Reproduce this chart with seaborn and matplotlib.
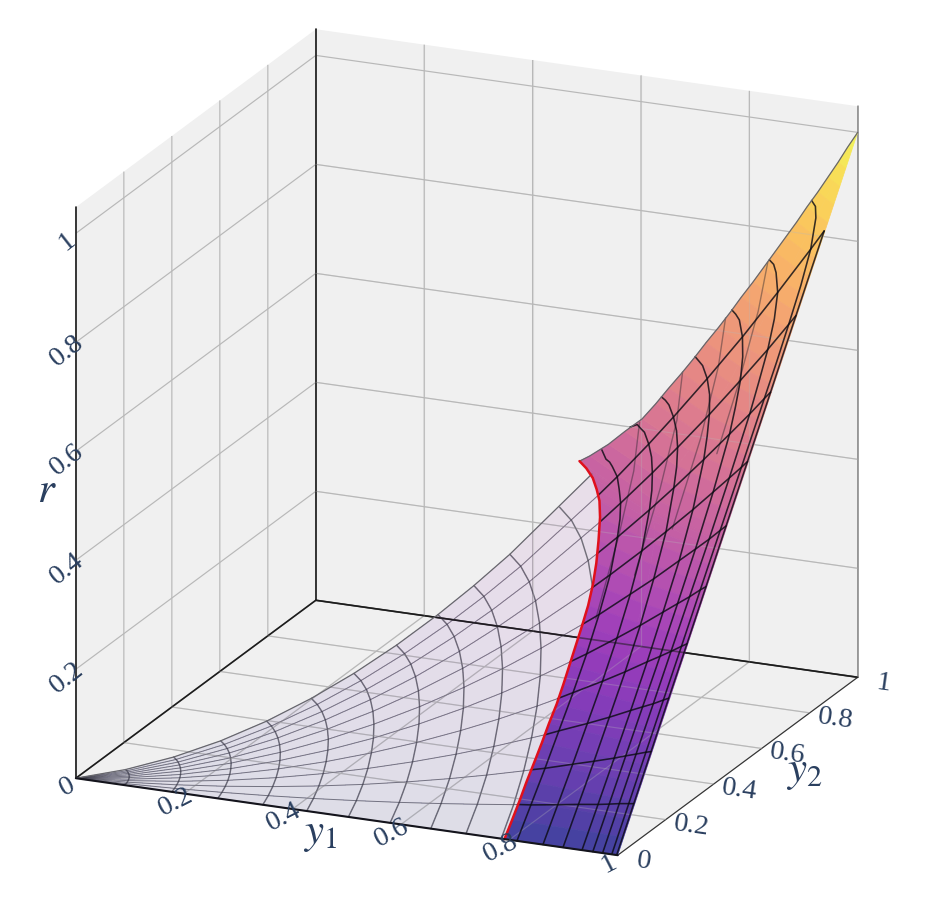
import numpy as np
import seaborn as sns
import matplotlib
matplotlib.use('Agg')
import matplotlib.pyplot as plt
from mpl_toolkits.mplot3d import proj3d

tick_values = [0, 0.2, 0.4, 0.6, 0.8, 1]
tick_labels = ['0', '0.2', '0.4', '0.6', '0.8', '1']
r_top = 1.048

# rays of the mesh, degrees from the y1 axis
ray_theta = [0, 4.09, 8.18, 12.27, 16.36, 20.45, 24.55, 28.64, 32.73, 36.82, 40.91, 45]

# pale sheet: arcs around the origin, one row per arc, one column per ray
arc_rho = [0.09, 0.177, 0.262, 0.345, 0.426, 0.503, 0.58, 0.655, 0.72, 0.785, 0.875]
nan = np.nan
arc_r = [
    [0, .0006, .0011, .0017, .0022, .0027, .0031, .0034, .0037, .0039, .0040, .0041],
    [0, .0022, .0044, .0065, .0085, .0102, .0118, .0132, .0142, .0150, .0155, .0157],
    [0, .0049, .0097, .0142, .0185, .0225, .0259, .0289, .0312, .0329, .0340, .0343],
    [0, .0085, .0168, .0247, .0322, .0389, .0450, .0501, .0541, .0571, .0589, .0595],
    [0, .0129, .0256, .0377, .0491, .0594, .0686, .0763, .0825, .0871, .0898, .0908],
    [0, .0180, .0356, .0525, .0684, .0828, .0956, .1064, .1151, .1214, .1252, .1265],
    [0, .0239, .0474, .0699, .0909, .1101, .1271, .1415, .1530, .1614, .1665, .1682],
    [0, .0305, .0604, .0891, .1160, .1404, .1621, .1804, .1951, .2058, .2123, .2145],
    [0, .0369, .0730, .1077, .1401, .1697, .1959, .2180, .2358, .2487, .2566, .2592],
    [0, .0438, .0868, .1280, .1666, .2017, .2329, .2592, .2802, .2956, .3050, .3081],
    [nan, nan, nan, nan, nan, nan, nan, .3220, .3482, .3673, .3789, .3828],
]

# solid sheet mesh: first row is the red edge, the others the dark arcs
mesh_y1 = [
    [.791, .790, .790, .789, .787, .783, .777, .767, .749, .726, .697, .660],
    [.814, .814, .814, .813, .812, .809, .803, .794, .778, .755, .722, .678],
    [.862, .862, .862, .861, .860, .857, .851, .841, .824, .799, .764, .718],
    [.899, .899, .899, .898, .897, .894, .887, .877, .859, .834, .797, .749],
    [.934, .934, .934, .934, .933, .930, .926, .917, .902, .878, .842, .792],
    [.954, .954, .954, .954, .954, .953, .951, .947, .939, .921, .889, .839],
    [.972, .972, .972, .972, .972, .972, .972, .971, .968, .959, .936, .887],
    [.989, .989, .989, .989, .989, .989, .989, .989, .989, .988, .980, .941],
    [.998, .998, .998, .998, .998, .998, .998, .998, .998, .998, .998, nan],
]
mesh_r = [
    [0, .045, .090, .135, .182, .229, .276, .321, .361, .395, .421, .436],
    [0, .047, .095, .144, .194, .244, .294, .344, .389, .427, .451, .460],
    [0, .053, .107, .161, .217, .274, .331, .386, .436, .478, .505, .516],
    [0, .058, .116, .175, .236, .298, .359, .420, .474, .521, .550, .561],
    [0, .062, .125, .190, .256, .323, .392, .459, .523, .577, .614, .627],
    [0, .065, .131, .198, .267, .339, .413, .490, .567, .635, .684, .704],
    [0, .068, .136, .205, .277, .352, .431, .515, .602, .688, .759, .787],
    [0, .070, .141, .213, .287, .365, .447, .534, .629, .731, .832, .886],
    [0, .071, .143, .217, .292, .371, .455, .544, .640, .746, .863, nan],
]
# extra points where the dark arcs bend near the rim
bend_theta = [34.77, 38.86, 42.95, 44.0]
bend_y1 = [
    [nan, nan, nan, nan],
    [.768, .739, .701, .690],
    [.813, .783, .743, .730],
    [.848, .817, .775, .762],
    [.891, .862, .819, .805],
    [.931, .907, .867, .853],
    [.964, .950, .915, .902],
    [.989, .986, .967, .956],
    [.998, .998, nan, nan],
]
bend_r = [
    [nan, nan, nan, nan],
    [.410, .440, .458, .460],
    [.459, .494, .514, .515],
    [.499, .538, .559, .561],
    [.551, .599, .624, .626],
    [.602, .663, .700, .703],
    [.645, .727, .779, .786],
    [.679, .784, .871, .883],
    [.692, .803, nan, nan],
]
# where the first arcs stop on the upper rim
rim_y1 = [.615, .658, .703]
rim_y2 = [.710, .706, .722]
rim_r = [.437, .465, .508]

# faint arcs seen through the solid sheet
under_y1 = [[.885, .905, .920, .926], [.831, .858, .878, .888], [.776, .808, .830, .845], [.721, .755, .780, .800]]
under_y2 = [[.885, .800, .680, .580], [.831, .740, .620, .480], [.776, .680, .560, .420], [.721, .620, .500, .360]]
under_r = [[.783, .724, .626, .537], [.691, .635, .544, .426], [.602, .549, .465, .355], [.520, .468, .390, .288]]

# solid sheet fill, strips of equal r from the left rim to y1 = 1
fill_r = [0, .025, .05, .075, .1, .125, .15, .175, .2, .225, .25, .275, .3, .325, .35, .375, .4, .416, .425,
          .433, .4365, .437, .45, .475, .5, .525, .55, .575, .6, .625, .65, .675, .7, .725, .75, .775, .8, .825,
          .85, .875, .9, .925, .95, .975, 1]
fill_left_y1 = [.791, .791, .791, .790, .790, .790, .789, .789, .787, .784, .781, .778, .774, .766, .755,
                .740, .722, .705, .687, .666, .640, .615, .635, .668, .695, .724, .742, .758, .775, .791, .806,
                .822, .837, .851, .866, .880, .894, .908, .922, .935, .949, .962, .975, .987, 1]
fill_left_y2 = [0, .032, .063, .095, .127, .158, .190, .222, .254, .287, .320, .353, .387, .425, .464,
                .507, .554, .590, .619, .650, .682, .710, .708, .711, .719, .725, .741, .758, .775, .791, .806,
                .822, .837, .851, .866, .880, .894, .908, .922, .935, .949, .962, .975, .987, 1]
fill_mid_y1 = [.896, .896, .895, .895, .895, .895, .895, .894, .893, .892, .890, .889, .887, .883, .878,
               .870, .861, .852, .843, .833, .820, .808, .818, .834, .848, .862, .871, .879, .888, .896, .903,
               .911, .919, .926, .933, .940, .947, .954, .961, .968, .975, .981, .988, .994, 1]
fill_mid_y2 = [0, .028, .056, .084, .112, .140, .168, .196, .224, .252, .281, .309, .338, .368, .399,
               .431, .465, .488, .504, .520, .532, .541, .550, .570, .590, .609, .631, .654, .676, .698, .720,
               .741, .762, .783, .804, .824, .845, .865, .884, .904, .923, .943, .962, .981, 1]
n_red = 22  # strips that end on the red edge

sns.set_style('white')
plt.rcParams['font.family'] = ['Liberation Serif', 'DejaVu Serif']
plt.rcParams['mathtext.fontset'] = 'stix'
ink = '#2a3f5f'
grid_grey = '#b8b8b8'
pane_grey = 0.94
plasma = sns.color_palette('plasma', as_cmap=True)

fig = plt.figure(figsize=(9.36, 9.09), dpi=100, facecolor='white')
ax = fig.add_axes([0, 0, 909 / 936, 1], projection='3d', computed_zorder=False)
ax.set_proj_type('ortho')
ax.view_init(elev=18.94, azim=-66.36)
ax.set_box_aspect((591.6, 598.5, 603.8), zoom=1.106)
ax.set_xlim(0, 1, view_margin=0)
ax.set_ylim(0, 1, view_margin=0)
ax.set_zlim(0, r_top, view_margin=0)
ax.set_xticks(tick_values)
ax.set_yticks(tick_values)
ax.set_zticks(tick_values)
ax.set_xticklabels([])
ax.set_yticklabels([])
ax.set_zticklabels([])
ax.set_facecolor('white')
for axis in (ax.xaxis, ax.yaxis, ax.zaxis):
    axis.set_pane_color((pane_grey, pane_grey, pane_grey, 1))
    axis.pane.set_edgecolor('none')
    axis.line.set_color((0, 0, 0, 0))
    axis._axinfo['grid'].update(color=grid_grey, linewidth=0.85)
    axis._axinfo['tick'].update(inward_factor=0, outward_factor=0)

theta = np.radians(ray_theta)
slope = np.tan(theta)
rho = np.array(arc_rho)
arc_r = np.array(arc_r)
mesh_y1 = np.array(mesh_y1)
mesh_r = np.array(mesh_r)
mesh_y2 = mesh_y1 * slope
bend_y1 = np.array(bend_y1)
bend_r = np.array(bend_r)
bend_y2 = bend_y1 * np.tan(np.radians(bend_theta))

# pale sheet
n_fill = len(arc_rho) - 1
pale_x = np.vstack([np.zeros(12), np.outer(rho[:n_fill], np.cos(theta)), mesh_y1[0]])
pale_y = np.vstack([np.zeros(12), np.outer(rho[:n_fill], np.sin(theta)), mesh_y2[0]])
pale_z = np.vstack([np.zeros(12), arc_r[:n_fill], mesh_r[0]])
pale_c = plasma(pale_z)
pale_c[..., 3] = 0.08
ax.plot_surface(pale_x, pale_y, pale_z, facecolors=pale_c, shade=False, rstride=1, cstride=1,
                linewidth=0, antialiased=False, zorder=2)

# box edges under the sheets
edge = {'color': '#1c1c1c', 'linewidth': 1.2, 'zorder': 1}
ax.plot([0, 0], [0, 1], [0, 0], **edge)
ax.plot([0, 1], [1, 1], [0, 0], **edge)
ax.plot([0, 0], [1, 1], [0, r_top], **edge)
ax.plot([0, 0], [0, 0], [0, r_top], **edge)
ax.plot([1, 1], [1, 1], [0, r_top], color='#8c8c8c', linewidth=1.1, zorder=1)
ax.plot([1, 1], [0, 1], [0, 0], color='#333333', linewidth=0.8, zorder=1)

pale_arc = {'color': '#3c3c46', 'alpha': 0.68, 'linewidth': 1.05, 'zorder': 3}
pale_ray = {'color': '#3c3c46', 'alpha': 0.62, 'linewidth': 0.7, 'zorder': 3}
for i in range(len(arc_rho)):
    ax.plot(rho[i] * np.cos(theta), rho[i] * np.sin(theta), arc_r[i], **pale_arc)
for j in range(1, len(ray_theta) - 1):
    ax.plot(pale_x[:, j], pale_y[:, j], pale_z[:, j], **pale_ray)

# solid sheet, colours already mixed with the grey behind so the strips leave no seams
solid_x = np.column_stack([fill_left_y1, fill_mid_y1, np.ones(len(fill_r))])
solid_y = np.column_stack([fill_left_y2, fill_mid_y2, fill_r])
solid_z = np.column_stack([fill_r, fill_r, fill_r])
solid_c = plasma(solid_z)
solid_c[..., :3] = 0.75 * solid_c[..., :3] + 0.25 * pane_grey
ax.plot_surface(solid_x, solid_y, solid_z, facecolors=solid_c, shade=False, rstride=1, cstride=1,
                linewidth=0.5, zorder=4)

# grid and back edge showing through the solid sheet
through = {'color': grid_grey, 'alpha': 0.3, 'linewidth': 0.85, 'zorder': 4.2}
for value in tick_values[1:-1]:
    ax.plot([value, value], [1, 1], [0, r_top], **through)
    ax.plot([value, value], [0, 1], [0, 0], **through)
    ax.plot([0, 1], [value, value], [0, 0], **through)
    ax.plot([0, 1], [1, 1], [value, value], **through)
ax.plot([0, 1], [1, 1], [0, 0], color='#1c1c1c', alpha=0.55, linewidth=1.2, zorder=4.2)

for xs, ys, zs in zip(under_y1, under_y2, under_r):
    ax.plot(xs, ys, zs, color='#22222a', alpha=0.42, linewidth=1.0, zorder=4.5)

dark_line = {'color': '#0c0c14', 'alpha': 0.82, 'linewidth': 1.15, 'zorder': 5}
for j in range(1, len(ray_theta) - 1):
    ax.plot(mesh_y1[:, j], mesh_y2[:, j], mesh_r[:, j], **dark_line)
order = np.argsort(ray_theta + bend_theta)
for i in range(1, len(mesh_y1)):
    xs = np.append(mesh_y1[i], bend_y1[i])[order]
    ys = np.append(mesh_y2[i], bend_y2[i])[order]
    zs = np.append(mesh_r[i], bend_r[i])[order]
    if i < len(rim_y1):
        xs, ys, zs = np.append(xs, rim_y1[i]), np.append(ys, rim_y2[i]), np.append(zs, rim_r[i])
    ax.plot(xs, ys, zs, **dark_line)

# upper rim and red edge
rim_line = {'color': '#66666c', 'linewidth': 0.9, 'zorder': 5}
ax.plot(pale_x[:, -1], pale_y[:, -1], pale_z[:, -1], **rim_line)
ax.plot(fill_left_y1[n_red - 1:], fill_left_y2[n_red - 1:], fill_r[n_red - 1:], **rim_line)
ax.plot(fill_left_y1[:n_red], fill_left_y2[:n_red], fill_r[:n_red], color='#e0101c', linewidth=1.8, zorder=6)
ax.plot([0, 1], [0, 0], [0, 0], color='#14141c', linewidth=1.5, zorder=7)


# tick labels and titles sit just outside the box
def label(y1, y2, r, text, rotation=0, size=20.5):
    x2d, y2d, _ = proj3d.proj_transform(y1, y2, r, ax.get_proj())
    ax.text2D(x2d, y2d, text, transform=ax.transData, rotation=rotation, ha='center', va='center',
              rotation_mode='anchor', fontsize=size, color=ink, zorder=8)


for value, name in zip(tick_values, tick_labels):
    label(value + 0.004, -0.046, 0, name, rotation=27)
    label(1.053, value - 0.011, 0, name, rotation=-8)
    if value > 0:
        label(0.004, -0.046, value, name, rotation=38)
label(0.497, -0.105, 0, '$y_1$', size=31)
label(1.118, 0.512, 0, '$y_2$', size=31)
label(0, -0.12, 0.565, '$r$', size=31)

fig.savefig('out.png', dpi=100)
